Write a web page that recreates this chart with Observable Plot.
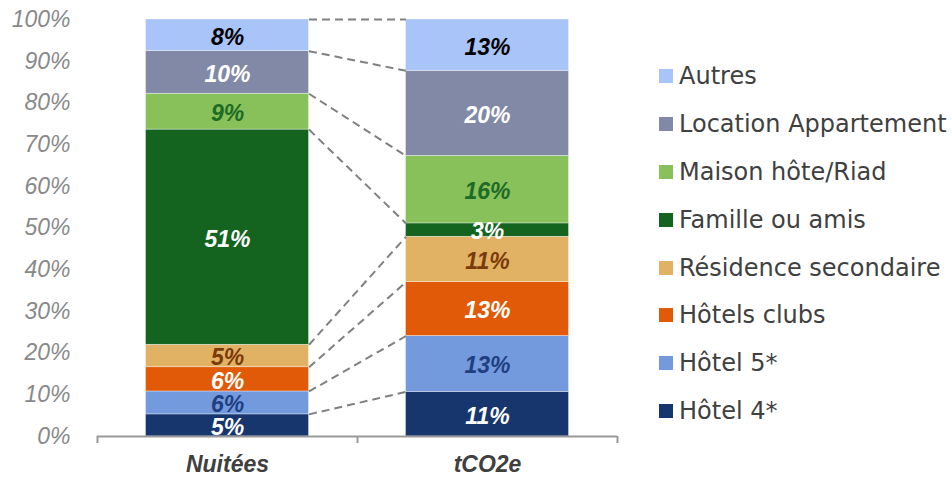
<!DOCTYPE html>
<html>
<head>
<meta charset="utf-8">
<script src="https://cdn.jsdelivr.net/npm/d3@7"></script>
<script src="https://cdn.jsdelivr.net/npm/@observablehq/plot@0.6"></script>
<style>
  html, body { margin: 0; padding: 0; background: #fff; }
  #wrap { position: relative; width: 952px; height: 478px; overflow: hidden; }
  #legend { position: absolute; left: 659px; top: 0; font-family: "DejaVu Sans", sans-serif; font-size: 24px; color: #404040; white-space: nowrap; }
  .row { position: absolute; left: 0; display: flex; align-items: center; height: 30px; }
  .sw { width: 14px; height: 14px; margin-right: 6px; }
</style>
</head>
<body>
<div id="wrap"></div>
<script>
const categories = ["Nuitées", "tCO2e"];
// stacking order bottom -> top
const series = ["Hôtel 4*", "Hôtel 5*", "Hôtels clubs", "Résidence secondaire", "Famille ou amis", "Maison hôte/Riad", "Location Appartement", "Autres"];
const colors = ["#17366E", "#729ADD", "#E05A07", "#E2B264", "#146420", "#88C05A", "#8289A6", "#A9C4F8"];
const labelColors = ["#ffffff", "#1F3F80", "#ffffff", "#7A3A0A", "#ffffff", "#1D6B25", "#ffffff", "#000000"];
const nuitees = [5.3, 5.5, 5.8, 5.4, 51.6, 8.6, 10.2, 7.6];
const tco2e = [10.7, 13.4, 12.9, 10.9, 3.2, 16.2, 20.4, 12.3];
const nuiteesLabels = ["5%", "6%", "6%", "5%", "51%", "9%", "10%", "8%"];
const tco2eLabels = ["11%", "13%", "13%", "11%", "3%", "16%", "20%", "13%"];
const yTicks = [0, 10, 20, 30, 40, 50, 60, 70, 80, 90, 100];

const halfBar = 0.3135; // half of bar width, in category-step units
const valuesByCat = [nuitees, tco2e];
const labelsByCat = [nuiteesLabels, tco2eLabels];

const segs = [];
valuesByCat.forEach((vals, ci) => {
  let acc = 0;
  vals.forEach((v, si) => {
    segs.push({ci, si, y1: acc, y2: acc + v, label: labelsByCat[ci][si]});
    acc += v;
  });
});
const links = series.map((s, si) => ({
  a: d3.sum(nuitees.slice(0, si + 1)),
  b: d3.sum(tco2e.slice(0, si + 1))
}));

const chart = Plot.plot({
  width: 952,
  height: 478,
  marginLeft: 97,
  marginRight: 335,
  marginTop: 19,
  marginBottom: 42,
  style: { background: "white", fontFamily: "'Liberation Sans', Arial, sans-serif" },
  x: { type: "linear", domain: [-0.5, 1.5] },
  y: { type: "linear", domain: [0, 100] },
  marks: [
    Plot.rect(segs, {
      x1: d => d.ci - halfBar, x2: d => d.ci + halfBar,
      y1: "y1", y2: "y2",
      fill: d => colors[d.si],
      stroke: "white", strokeWidth: 0.6, strokeOpacity: 0.6
    }),
    Plot.link(links, {
      x1: 0 + halfBar, x2: 1 - halfBar,
      y1: "a", y2: "b",
      stroke: "#808080", strokeWidth: 2, strokeDasharray: "8,5"
    }),
    Plot.text(segs, {
      x: "ci", y: d => (d.y1 + d.y2) / 2,
      text: "label", fill: d => labelColors[d.si],
      fontSize: 23, fontWeight: "bold", fontStyle: "italic", dy: 2,
      fontFamily: "'Liberation Sans', Arial, sans-serif"
    }),
    Plot.ruleY([0], { stroke: "#999999", strokeWidth: 2 }),
    Plot.ruleX([-0.5, 0.5, 1.5], { y1: 0, y2: 0, insetBottom: -7, stroke: "#999999", strokeWidth: 2 }),
    Plot.axisY({
      ticks: yTicks, tickFormat: d => d + "%", tickSize: 0, tickPadding: 27,
      fontSize: 23, fontStyle: "italic", fill: "#898989", label: null
    }),
    Plot.axisX({
      ticks: [0, 1], tickFormat: i => categories[i], tickSize: 0, tickPadding: 19,
      fontSize: 23, fontWeight: "bold", fontStyle: "italic", fill: "#404040", label: null
    })
  ]
});

const wrap = document.getElementById("wrap");
wrap.appendChild(chart);

const legend = document.createElement("div");
legend.id = "legend";
const rowYs = series.map((s, i) => 411 - i * 47.8);
series.forEach((s, i) => {
  const row = document.createElement("div");
  row.className = "row";
  row.style.top = (rowYs[i] - 15) + "px";
  const sw = document.createElement("div");
  sw.className = "sw";
  sw.style.background = colors[i];
  const t = document.createElement("span");
  t.textContent = s;
  row.appendChild(sw);
  row.appendChild(t);
  legend.appendChild(row);
});
wrap.appendChild(legend);
</script>
</body>
</html>
